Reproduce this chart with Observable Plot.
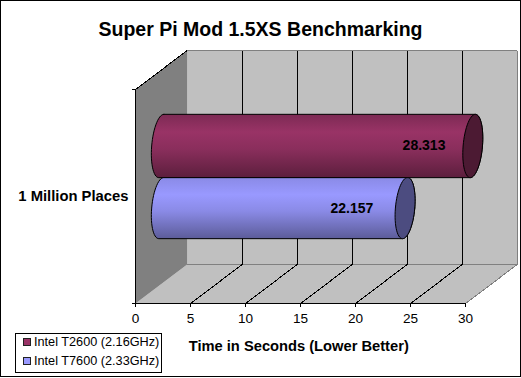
<!DOCTYPE html>
<html>
<head>
<meta charset="utf-8">
<script src="https://cdn.jsdelivr.net/npm/d3@7"></script>
<script src="https://cdn.jsdelivr.net/npm/@observablehq/plot@0.6"></script>
<style>
  html, body { margin: 0; padding: 0; background: #fff; }
  #chart { position: relative; width: 521px; height: 378px; overflow: hidden; font-family: "Liberation Sans", Arial, sans-serif; color: #000; }
  #chart svg { position: absolute; left: 0; top: 0; }
  #frame { position: absolute; left: 0; top: 0; width: 519px; height: 375px; border: 1px solid #000; pointer-events: none; }
  #title { position: absolute; left: 0; top: 18px; width: 521px; text-align: center; font-size: 19.5px; font-weight: bold; line-height: 22px; }
  #legend { position: absolute; left: 15px; top: 333px; width: 145px; height: 38px; border: 1px solid #000; background: #fff; font-size: 12.7px; }
  #legend div { position: absolute; left: 18px; white-space: nowrap; line-height: 16px; }
  #legend i { position: absolute; left: -11px; top: 4px; width: 6px; height: 6px; border: 1px solid #222; }
</style>
</head>
<body>
<div id="chart">
  <div id="frame"></div>
  <div id="title"></div>
  <div id="legend"></div>
</div>
<script>
// --- chart data ---
const chartTitle = "Super Pi Mod 1.5XS Benchmarking";
const axisTitle = "Time in Seconds (Lower Better)";
const category = "1 Million Places";
const seriesNames = ["Intel T2600 (2.16GHz)", "Intel T7600 (2.33GHz)"];
const seriesValues = [28.313, 22.157];
const seriesLanes = [0.645, 0.355];        // vertical centre of each cylinder on the 0–1 category axis
const seriesHalfHeights = [0.148, 0.143];
const labelPositions = [26.23, 19.67];     // centre of each data label, seconds
const tickValues = [0, 5, 10, 15, 20, 25, 30];
const swatchColors = ["#993366", "#9999FF"];
const capColors = ["#4C1A33", "#4C4C80"];
const gradientStops = [
  ["#7D2A54", "#993366", "#8A2E5C", "#5C1F3D"],
  ["#8A8AE6", "#9999FF", "#8A8AE6", "#5C5C99"]
];

// --- oblique projection of the 3-D box, in axis units ---
const depthX = 4.7;    // seconds of sideways shift from front to back
const depthY = 0.182;  // category-axis units of upward shift from front to back
const capA = 0.88, capK = 0.23;
const P = (x, y, d) => ({x: x + d * depthX, y: y + d * depthY});
const poly = (pts, fill) => Plot.line(pts.map(([x, y, d]) => P(x, y, d)), {x: "x", y: "y", fill, stroke: "none"});
const edge = (a, b, stroke) => Plot.link([[P(...a), P(...b)]], {
  x1: (s) => s[0].x, y1: (s) => s[0].y, x2: (s) => s[1].x, y2: (s) => s[1].y,
  stroke, strokeWidth: 1, shapeRendering: "crispEdges"
});

const cap = (x, i, from, to) => d3.range(from, to + 1, 6).map((deg) => {
  const t = deg * Math.PI / 180;
  return {
    x: x + 0.5 * depthX + capA * Math.cos(t) + capK * Math.sin(t),
    y: seriesLanes[i] + 0.5 * depthY + seriesHalfHeights[i] * Math.sin(t)
  };
});

function cylinder(i) {
  const body = [...cap(0, i, 90, 270), ...cap(seriesValues[i], i, -90, 90)];
  body.push(body[0]);
  return [
    Plot.line(body, {x: "x", y: "y", fill: `url(#grad${i})`, stroke: "#000", strokeWidth: 1}),
    Plot.line(cap(seriesValues[i], i, 0, 360), {x: "x", y: "y", fill: capColors[i], stroke: "#000", strokeWidth: 1}),
    Plot.text([i], {
      x: (k) => labelPositions[k],
      y: (k) => seriesLanes[k] + 0.5 * depthY,
      text: (k) => seriesValues[k].toFixed(3),
      fontWeight: "bold", fontSize: 14, fill: "#000"
    })
  ];
}

const defs = () => {
  const el = d3.create("svg:defs");
  gradientStops.forEach((stops, i) => {
    const g = el.append("linearGradient").attr("id", `grad${i}`).attr("x1", 0).attr("x2", 0).attr("y1", 0).attr("y2", 1);
    [0, 0.28, 0.55, 1].forEach((o, j) => g.append("stop").attr("offset", o).attr("stop-color", stops[j]));
  });
  return el.node();
};

const inner = tickValues.slice(1, -1);

const plot = Plot.plot({
  width: 521,
  height: 378,
  marginLeft: 135,
  marginRight: 56,
  marginTop: 89,
  marginBottom: 75,
  style: {fontFamily: '"Liberation Sans", Arial, sans-serif', fontSize: "13.3px", background: "transparent", color: "#000"},
  x: {domain: [0, 30]},
  y: {domain: [0, 1]},
  marks: [
    defs,
    // walls and floor
    poly([[0, 0, 1], [30, 0, 1], [30, 1, 1], [0, 1, 1]], "#C0C0C0"),
    poly([[0, 0, 0], [30, 0, 0], [30, 0, 1], [0, 0, 1]], "#C0C0C0"),
    poly([[0, 0, 0], [0, 0, 1], [0, 1, 1], [0, 1, 0]], "#808080"),
    // gray outer edges
    edge([0, 1, 1], [30, 1, 1], "#808080"),
    edge([30, 0, 1], [30, 1, 1], "#808080"),
    edge([0, 0, 1], [30, 0, 1], "#808080"),
    edge([30, 0, 0], [30, 0, 1], "#808080"),
    // gridlines
    ...inner.map((t) => edge([t, 0, 1], [t, 1, 1], "#000")),
    ...inner.map((t) => edge([t, 0, 0], [t, 0, 1], "#000")),
    // left wall black edges
    edge([0, 0, 0], [0, 1, 0], "#000"),
    edge([0, 1, 0], [0, 1, 1], "#000"),
    edge([0, 0, 0], [30, 0, 0], "#000"),
    // cylinders, lower one first
    ...cylinder(1),
    ...cylinder(0),
    // axes
    Plot.axisX({ticks: tickValues, tickSize: 4, tickPadding: 6, tickFormat: (d) => String(d), label: null, fontSize: 13.6, stroke: "#000"}),
    Plot.axisY({ticks: [0, 1], tickSize: 3, tickFormat: () => "", label: null, stroke: "#000"}),
    Plot.text([category], {x: 0, y: 0.5, text: (d) => d, textAnchor: "end", dx: -7, fontWeight: "bold", fontSize: 14.8}),
    Plot.text([axisTitle], {x: 14.84, frameAnchor: "bottom", dy: 47, text: (d) => d, fontWeight: "bold", fontSize: 14.7})
  ]
});

document.getElementById("chart").prepend(plot);
document.getElementById("title").textContent = chartTitle;
const legend = document.getElementById("legend");
seriesNames.forEach((name, i) => {
  const row = document.createElement("div");
  row.style.top = (i === 0 ? 0 : 19) + "px";
  row.textContent = name;
  const sw = document.createElement("i");
  sw.style.background = swatchColors[i];
  row.appendChild(sw);
  legend.appendChild(row);
});
</script>
</body>
</html>
